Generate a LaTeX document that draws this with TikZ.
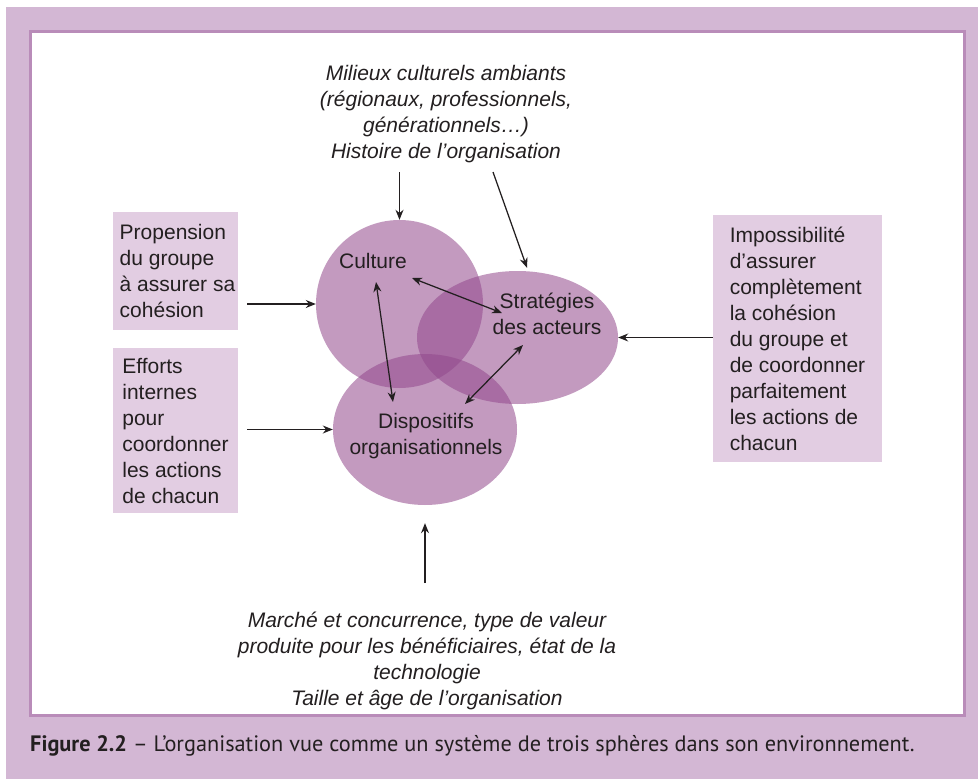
\documentclass[tikz,border=0pt]{standalone}
\usepackage{fontspec}
\setmainfont{Liberation Sans}
\newfontfamily\capfont{PT Sans}
\usetikzlibrary{shapes.geometric,arrows.meta,calc}
\definecolor{bgl}{RGB}{211,183,212}
\definecolor{panelb}{RGB}{185,140,185}
\definecolor{boxf}{RGB}{226,205,226}
\definecolor{sph}{RGB}{146,72,140}
\definecolor{ink}{RGB}{35,31,32}
\begin{document}
\begin{tikzpicture}[x=1pt,y=-1pt,
 txt/.style={font=\fontsize{21}{26}\selectfont, text=ink, inner sep=0pt},
 itxt/.style={text=ink, inner sep=0pt, font=\fontsize{21}{26}\selectfont\itshape, align=center},
 sidebox/.style={txt, fill=boxf, align=left},
 sphere/.style={ellipse, fill=sph, fill opacity=0.55, inner sep=0pt},
 arr/.style={draw=ink, line width=1.25pt, -{Stealth[length=10pt,width=8pt]}},
 dbl/.style={draw=ink, line width=1.25pt, {Stealth[length=10pt,width=8pt]}-{Stealth[length=10pt,width=8pt]}}]
\useasboundingbox (0,0) rectangle (978,779);
\fill[white] (0,0) rectangle (978,779);
\fill[bgl] (6,7) rectangle (978,779);
\draw[panelb, fill=white, line width=2.5pt] (30.5,31.5) rectangle (964.5,715.5);
% spheres
\node[sphere, minimum width=167pt, minimum height=168pt] (cult) at (399.5,304) {};
\node[sphere, minimum width=201pt, minimum height=133pt] (strat) at (517.5,337.5) {};
\node[sphere, minimum width=184pt, minimum height=151pt] (disp) at (425,429.5) {};
% sphere labels
\node[txt] (tcult) at (373,261) {Culture};
\node[txt, align=center] (tstrat) at (547,313.5) {Stratégies\\des acteurs};
\node[txt, align=center] (tdisp) at (426,436.5) {Dispositifs\\organisationnels};
% side boxes
\node[sidebox, minimum width=125pt, minimum height=118pt] (b1) at (175.5,271) {\hspace*{4pt}Propension\\\hspace*{4pt}du groupe\\\hspace*{4pt}à assurer sa\\\hspace*{4pt}cohésion};
\node[sidebox, minimum width=125pt, minimum height=165pt] (b2) at (175.5,430.5) {Efforts\\internes\\pour\\coordonner\\les actions\\de chacun};
\node[sidebox, minimum width=169pt, minimum height=247pt] (b3) at (797.5,338.5) {Impossibilité\\d’assurer\\complètement\\la cohésion\\du groupe et\\de coordonner\\parfaitement\\les actions de\\chacun};
% top and bottom texts
\node[itxt] (ttop) at (446,114) {Milieux culturels ambiants\\(régionaux, professionnels,\\générationnels…)\\Histoire de l’organisation};
\node[itxt] (tbot) at (427,661) {Marché et concurrence, type de valeur\\produite pour les bénéficiaires, état de la\\technologie\\Taille et âge de l’organisation};
% free ends
\coordinate (ta) at (399.5,172);
\coordinate (tb) at (493,172);
\coordinate (ba) at (425,583);
% arrows
\draw[arr] (ta) -- (cult.north);
\draw[arr] (tb) -- ([shift={(9.5,-3)}]strat.north);
\draw[arr] (ba) -- ([shift={(0,18)}]disp.south);
\draw[arr] ($(b1.east |- cult.west)+(9,0)$) -- (cult.west);
\draw[arr] ($(b2.east |- disp.west)+(9,0)$) -- (disp.west);
\draw[arr] (b3.west |- strat.east) -- (strat.east);
\draw[dbl] ([shift={(3,21)}]tcult.center) -- ([shift={(-33,-34.5)}]tdisp.center);
\draw[dbl] ([shift={(39,17)}]tcult.center) -- ([shift={(-45,-0.5)}]tstrat.center);
\draw[dbl] ([shift={(-24,31.5)}]tstrat.center) -- ([shift={(39,-32.5)}]tdisp.center);
% caption
\node[anchor=base west, inner sep=0pt, font=\capfont\fontsize{22.3}{26}\selectfont, text=ink] (cap) at (30,751) {\textbf{Figure 2.2} – L’organisation vue comme un système de trois sphères dans son environnement.};
\end{tikzpicture}
\end{document}
